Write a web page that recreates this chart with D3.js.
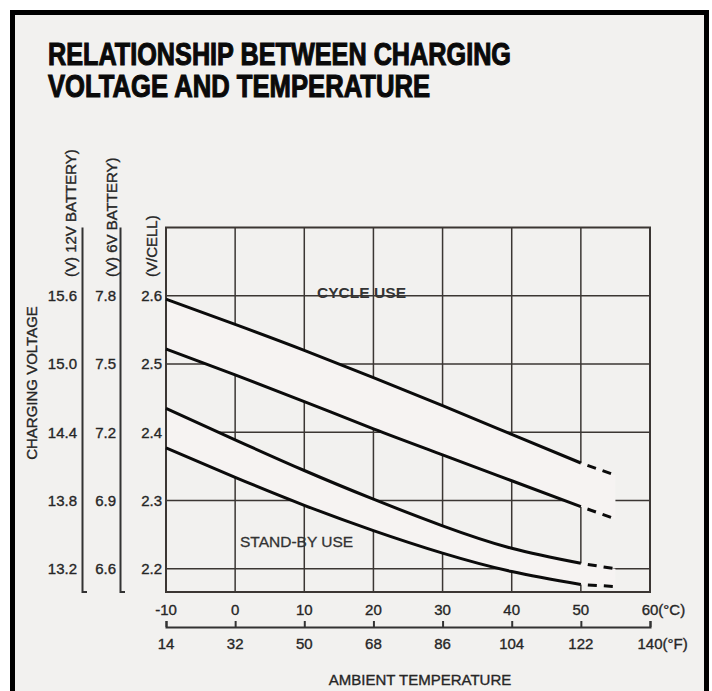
<!DOCTYPE html>
<html><head><meta charset="utf-8">
<script src="https://cdn.jsdelivr.net/npm/d3@7"></script>
<style>body{margin:0;background:#fff}svg{display:block}</style>
</head><body><svg id="c" width="712" height="691"></svg>
<script>
// ---- data ----
const tempsC       = [-10, 0, 10, 20, 30, 40, 50, 55];
const cycleUpper   = [2.595, 2.558, 2.520, 2.480, 2.439, 2.397, 2.355, 2.337];
const cycleLower   = [2.522, 2.484, 2.445, 2.405, 2.367, 2.329, 2.291, 2.273];
const standbyUpper = [2.435, 2.389, 2.344, 2.302, 2.263, 2.230, 2.208, 2.200];
const standbyLower = [2.377, 2.334, 2.293, 2.256, 2.223, 2.196, 2.177, 2.174];

const cTicks      = [-10, 0, 10, 20, 30, 40, 50, 60];
const cTickLabels = ["-10", "0", "10", "20", "30", "40", "50", "60"];
const fTickLabels = ["14", "32", "50", "68", "86", "104", "122", "140"];
const cellTicks   = [2.2, 2.3, 2.4, 2.5, 2.6];
const cellLabels  = ["2.2", "2.3", "2.4", "2.5", "2.6"];
const v6Labels    = ["6.6", "6.9", "7.2", "7.5", "7.8"];
const v12Labels   = ["13.2", "13.8", "14.4", "15.0", "15.6"];

const titleLines = ["RELATIONSHIP BETWEEN CHARGING", "VOLTAGE AND TEMPERATURE"];

// ---- setup ----
const FONT = "'Liberation Sans', Arial, Helvetica, sans-serif";
const svg = d3.select("#c");
const BG = "#f2f1ef", BAND = "#f6f3f2", GRID = "#3b3633", INK = "#262626";

svg.append("rect").attr("width", 712).attr("height", 691).attr("fill", "#fff");
svg.append("rect").attr("x", 12.5).attr("y", 12.5).attr("width", 694).attr("height", 720)
  .attr("fill", BG).attr("stroke", "#000").attr("stroke-width", 5);

// title
svg.selectAll("text.title").data(titleLines).join("text")
  .attr("class", "title")
  .attr("x", 48).attr("y", (d, i) => 65 + i * 32)
  .attr("font-family", FONT).attr("font-weight", "bold").attr("font-size", 31)
  .attr("fill", "#0a0a0a").attr("stroke", "#0a0a0a").attr("stroke-width", 1.1)
  .attr("textLength", (d, i) => i === 0 ? 463 : 382)
  .attr("lengthAdjust", "spacingAndGlyphs")
  .text(d => d);

// scales
const x = d3.scaleLinear().domain([-10, 60]).range([166, 650]);
const y = d3.scaleLinear().domain([2.166, 2.7]).range([592, 227.5]);

// grid
const g = svg.append("g");
g.selectAll("line.v").data(cTicks.slice(1, -1)).join("line")
  .attr("x1", d => x(d)).attr("x2", d => x(d))
  .attr("y1", y(2.7)).attr("y2", y(2.166))
  .attr("stroke", GRID).attr("stroke-width", 1.5);
g.selectAll("line.h").data(cellTicks).join("line")
  .attr("x1", x(-10)).attr("x2", x(60))
  .attr("y1", d => y(d)).attr("y2", d => y(d))
  .attr("stroke", GRID).attr("stroke-width", 1.5);

// bands
const curve = d3.curveNatural;
function band(up, lo) {
  const n = 7;
  const top = d3.line().curve(curve).x((d, i) => x(tempsC[i])).y(d => y(d))(up.slice(0, n));
  const bot = d3.line().curve(curve).x((d, i) => x(tempsC[n - 1 - i])).y(d => y(d))(lo.slice(0, n).reverse());
  return top + `L${x(tempsC[7])},${y(up[7])}L${x(tempsC[7])},${y(lo[7])}L` + bot.slice(1) + "Z";
}
svg.append("path").attr("d", band(cycleUpper, cycleLower)).attr("fill", BAND);
svg.append("path").attr("d", band(standbyUpper, standbyLower)).attr("fill", BAND);

// plot box
svg.append("rect").attr("x", x(-10)).attr("y", y(2.7))
  .attr("width", x(60) - x(-10)).attr("height", y(2.166) - y(2.7))
  .attr("fill", "none").attr("stroke", GRID).attr("stroke-width", 2);

// curves
const line = d3.line().curve(curve).x(d => x(d[0])).y(d => y(d[1]));
[cycleUpper, cycleLower, standbyUpper, standbyLower].forEach(s => {
  const pts = tempsC.map((t, i) => [t, s[i]]);
  svg.append("path").attr("d", line(pts.slice(0, 7)))
    .attr("fill", "none").attr("stroke", "#0b0b0b").attr("stroke-width", 3);
  svg.append("path").attr("d", d3.line().x(d => x(d[0])).y(d => y(d[1]))(pts.slice(6)))
    .attr("fill", "none").attr("stroke", "#0b0b0b").attr("stroke-width", 3)
    .attr("stroke-dasharray", "9 7").attr("stroke-dashoffset", 9);
});

// in-plot labels
svg.append("text").attr("x", 317).attr("y", 298)
  .attr("font-family", FONT).attr("font-weight", "bold").attr("font-size", 14)
  .attr("textLength", 89).attr("lengthAdjust", "spacingAndGlyphs")
  .attr("fill", "#333").text("CYCLE USE");
svg.append("text").attr("x", 240).attr("y", 547)
  .attr("font-family", FONT).attr("font-size", 15.5)
  .attr("fill", "#333").attr("stroke", "#333").attr("stroke-width", 0.3).text("STAND-BY USE");

function txtStyle(sel) {
  sel.attr("font-family", FONT).attr("font-size", 15).attr("fill", INK)
    .attr("stroke", INK).attr("stroke-width", 0.35);
}

// left axes
function leftAxis(xPos, labels) {
  const a = d3.axisLeft(y).tickValues(cellTicks).tickSize(0).tickPadding(0)
    .tickFormat((d, i) => labels[i]);
  const ga = svg.append("g").attr("transform", `translate(${xPos},0)`).call(a);
  ga.select(".domain").remove();
  ga.selectAll("text").call(txtStyle);
}
leftAxis(162, cellLabels);
leftAxis(116, v6Labels);
leftAxis(77, v12Labels);

// bracket lines for 12V and 6V
[82.5, 120.5].forEach(xx => {
  svg.append("path")
    .attr("d", `M${xx},${y(2.7)}V${y(2.166)}H${xx + 4.5}`)
    .attr("fill", "none").attr("stroke", "#333").attr("stroke-width", 2);
});

// rotated labels
function vLabel(xb, yStart, txt, anchor) {
  svg.append("text").attr("transform", `translate(${xb},${yStart}) rotate(-90)`)
    .attr("text-anchor", anchor).call(txtStyle).text(txt);
}
vLabel(36.5, 383, "CHARGING VOLTAGE", "middle");
vLabel(76, 277, "(V) 12V BATTERY)", "start");
vLabel(116.5, 277, "(V) 6V BATTERY)", "start");
vLabel(156.5, 277, "(V/CELL)", "start");

// bottom tick labels
function tickLabels(labels, baseY, unit) {
  labels.forEach((lab, i) => {
    const t = svg.append("text").attr("x", x(cTicks[i])).attr("y", baseY)
      .attr("text-anchor", "middle").call(txtStyle).text(lab);
    if (i === labels.length - 1) {
      const w = t.node().getComputedTextLength();
      svg.append("text").attr("x", x(cTicks[i]) + w / 2).attr("y", baseY)
        .call(txtStyle).text(unit);
    }
  });
}
tickLabels(cTickLabels, 615, "(°C)");

// Fahrenheit axis
const fAxis = d3.axisBottom(x).tickValues(cTicks).tickSize(-6).tickFormat("");
const gf = svg.append("g").attr("transform", "translate(0,627)").call(fAxis);
gf.selectAll("path, line").attr("stroke", "#333").attr("stroke-width", 2);
tickLabels(fTickLabels, 649, "(°F)");

svg.append("text").attr("x", 420).attr("y", 685).attr("text-anchor", "middle")
  .call(txtStyle).text("AMBIENT TEMPERATURE");
</script></body></html>
